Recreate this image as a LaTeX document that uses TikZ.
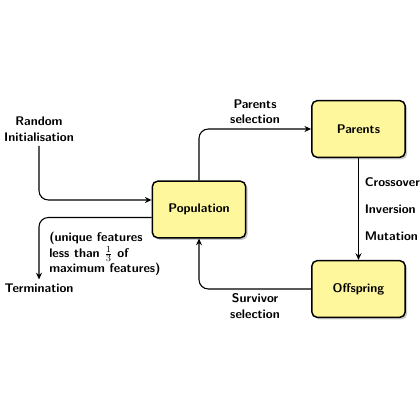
\documentclass[tikz,border=0pt]{standalone}
\usetikzlibrary{shadows,calc,arrows.meta}
\definecolor{boxfill}{RGB}{255,247,155}
\begin{document}
\begin{tikzpicture}[x=0.75pt,y=-0.75pt,
  font=\fontsize{9.4}{11.6}\selectfont\sffamily\bfseries,
  box/.style={draw=black, line width=1.1pt, rounded corners=4pt, fill=boxfill,
    minimum width=70pt, minimum height=42.5pt,
    drop shadow={shadow xshift=1.5pt, shadow yshift=-1.5pt, opacity=0.35, fill=black!60}},
  conn/.style={draw, line width=0.8pt, rounded corners=7pt, -{Stealth[length=5pt,width=4.5pt]}},
  lbl/.style={align=center},
]
\useasboundingbox (0,0) rectangle (420,420);
\node[box] (pop) at (199,209.5) {Population};
\node[box] (par) at (358.5,129) {Parents};
\node[box] (off) at (358.5,289) {Offspring};
\node[lbl] (init) at (39,129) {Random\\Initialisation};
\node (term) at (39,288.5) {Termination};
\coordinate (pin) at ($(pop.west)+(0,-9.5)$);
\coordinate (pout) at ($(pop.west)+(0,8)$);

\draw[conn] (init.south) |- (pin);
\draw[conn] (pout) -| (term.north);
\node[align=left, anchor=north west, inner sep=0pt] (cond) at (49,232)
  {(unique features\\less than $\frac{1}{3}$ of\\maximum features)};
\draw[conn] (pop.north) |- node[pos=0.75, above, lbl] (psel) {Parents\\selection} (par.west);
\draw[conn] (par.south) -- (off.north)
  node[pos=0.24, right, xshift=1pt] (cx) {Crossover}
  node[pos=0.5, right, xshift=1pt] (inv) {Inversion}
  node[pos=0.77, right, xshift=1pt] (mut) {Mutation};
\draw[conn] (off.west) -| node[pos=0.25, below, lbl] (ssel) {Survivor\\selection} (pop.south);
\end{tikzpicture}
\end{document}
